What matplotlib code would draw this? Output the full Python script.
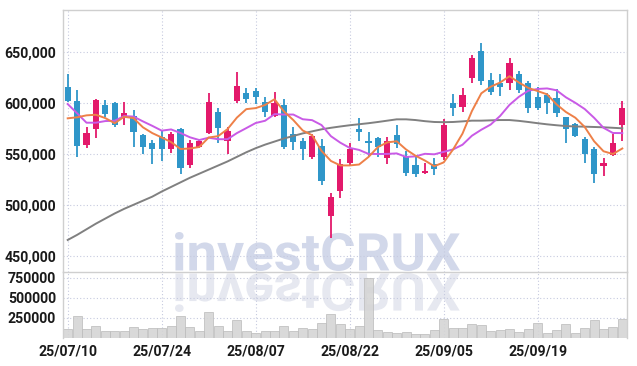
import numpy as np
import matplotlib
matplotlib.use('Agg')
import matplotlib.pyplot as plt
from matplotlib.textpath import TextPath
from matplotlib.patches import PathPatch
from matplotlib.font_manager import FontProperties
from matplotlib.transforms import Affine2D, IdentityTransform

# daily OHLC in thousands of won
open_ = [615.7, 602.5, 559.4, 575.1, 598.3, 600.6, 586.9, 587.5, 568.9, 560.8,
         567.3, 554.9, 574.8, 539.5, 556.9, 571.2, 591.5, 563.3, 602.5, 610.1,
         612.1, 601.6, 587.8, 598.3, 569.9, 563.0, 547.6, 558.1, 489.8, 514.3,
         541.2, 574.5, 562.4, 565.7, 546.1, 568.9, 548.3, 539.5, 532.0, 540.5,
         547.6, 600.6, 596.7, 625.1, 651.3, 622.8, 620.2, 619.6, 628.7, 619.6,
         605.9, 608.1, 604.9, 586.3, 579.4, 564.7, 554.9, 538.5, 549.3, 578.7]
high = [628.7, 613.0, 576.5, 603.9, 603.2, 601.3, 601.6, 593.4, 569.9, 564.0,
        573.1, 572.2, 575.5, 564.0, 564.0, 609.8, 595.1, 577.1, 631.0, 614.7,
        614.7, 605.9, 610.8, 603.9, 576.5, 565.7, 569.9, 564.7, 511.8, 545.1,
        560.8, 585.3, 572.2, 567.3, 566.7, 578.7, 553.5, 547.1, 541.8, 546.1,
        584.3, 609.1, 614.7, 647.4, 658.8, 629.4, 628.7, 644.1, 631.7, 622.2,
        616.3, 609.8, 613.7, 586.3, 581.0, 566.7, 556.9, 546.1, 569.9, 602.5]
low = [601.5, 547.0, 555.9, 565.7, 586.9, 576.5, 578.7, 556.9, 550.3, 540.5,
       543.7, 551.6, 530.7, 536.3, 555.9, 569.9, 561.4, 550.3, 600.6, 600.6,
       599.3, 586.9, 586.9, 554.9, 554.2, 544.4, 545.1, 519.9, 467.7, 506.9,
       539.5, 563.3, 548.3, 547.6, 540.5, 555.9, 528.7, 527.5, 530.7, 529.7,
       544.4, 587.5, 591.8, 620.2, 617.9, 608.1, 607.2, 613.0, 610.4, 590.2,
       593.4, 589.5, 586.9, 560.8, 567.3, 541.2, 521.6, 529.0, 548.3, 563.3]
close = [602.5, 558.1, 571.2, 603.2, 589.5, 578.7, 590.8, 572.2, 557.5, 555.5,
         555.5, 569.9, 536.3, 560.8, 563.0, 601.0, 576.1, 572.8, 617.0, 604.5,
         605.9, 591.8, 600.6, 557.5, 562.4, 554.9, 567.9, 524.1, 508.4, 540.2,
         554.9, 572.2, 561.4, 556.9, 563.3, 560.1, 532.0, 530.7, 533.6, 535.3,
         578.7, 595.7, 608.1, 644.1, 622.2, 611.4, 616.3, 639.2, 613.0, 595.7,
         595.7, 600.6, 590.2, 575.1, 567.9, 550.3, 530.7, 541.2, 561.4, 595.1]

# moving average lines (thousands of won)
ma_short = [585.3, 586.3, 588.2, 588.8, 585.5, 580.5, 586.8, 585.5, 576.5, 570.8,
            566.5, 562.0, 555.2, 555.7, 557.2, 566.5, 567.8, 574.7, 586.0, 594.3,
            595.3, 598.4, 604.0, 592.1, 583.6, 573.4, 568.7, 553.4, 543.5, 539.1,
            539.1, 540.0, 547.4, 557.1, 561.7, 562.8, 554.7, 548.6, 543.9, 538.3,
            542.1, 554.8, 570.3, 592.4, 609.8, 616.3, 620.4, 626.6, 620.4, 615.1,
            612.0, 608.8, 599.0, 591.5, 585.9, 576.8, 562.8, 553.0, 550.3, 555.7]
ma_mid = [599.3, 590.2, 581.0, 581.0, 582.6, 582.9, 587.5, 587.0, 582.3, 577.9,
          573.2, 574.4, 570.9, 566.7, 564.0, 566.3, 564.8, 564.8, 570.8, 575.7,
          580.7, 582.9, 589.4, 589.0, 589.0, 584.4, 583.5, 578.7, 567.8, 561.4,
          556.3, 554.3, 550.4, 550.3, 550.4, 550.9, 547.4, 548.0, 550.5, 550.0,
          552.4, 554.8, 559.4, 568.2, 574.1, 579.2, 587.6, 598.5, 606.4, 612.4,
          614.1, 614.6, 612.8, 605.9, 600.5, 594.4, 585.8, 576.0, 570.9, 570.8]
ma_long = [466.0, 471.0, 476.5, 482.0, 487.0, 492.0, 496.5, 500.5, 504.5, 508.5,
           513.5, 518.0, 522.5, 527.0, 531.0, 535.0, 539.0, 543.0, 547.5, 552.0,
           556.0, 559.5, 562.5, 565.5, 568.0, 570.5, 572.5, 574.5, 576.0, 577.3,
           578.5, 579.5, 580.5, 581.7, 583.0, 584.3, 584.3, 583.6, 582.5, 581.7,
           581.5, 581.7, 582.3, 583.0, 583.0, 583.3, 583.6, 583.6, 582.8, 581.7,
           580.5, 579.4, 578.5, 577.7, 577.3, 577.1, 576.8, 576.5, 576.0, 575.5]

# volume in thousands of shares
volume = [112, 270, 112, 145, 83, 83, 83, 137, 112, 125,
          125, 145, 270, 137, 83, 320, 145, 83, 220, 83,
          62, 83, 83, 145, 83, 120, 108, 187, 300, 166,
          112, 150, 750, 95, 75, 62, 75, 50, 50, 95,
          237, 125, 125, 175, 162, 83, 100, 112, 75, 112,
          187, 62, 91, 166, 62, 125, 216, 112, 137, 229]

tick_pos = [0, 10, 20, 30, 40, 50]
tick_labels = ['25/07/10', '25/07/24', '25/08/07', '25/08/22', '25/09/05', '25/09/19']

UP = '#e3196b'
DOWN = '#2f96c9'
GRID = '#c6cadf'
SPINE = '#cfcfcf'
FONT = ['Roboto', 'DejaVu Sans']


def main():
    o = np.array(open_) * 1000
    h = np.array(high) * 1000
    l = np.array(low) * 1000
    c = np.array(close) * 1000
    x = np.arange(len(c))

    fig = plt.figure(figsize=(6.37, 3.66), dpi=100)
    ax = fig.add_axes([63 / 637, 1 - 272 / 366, 564 / 637, 262.5 / 366])
    axv = fig.add_axes([63 / 637, 1 - 337.5 / 366, 564 / 637, 65.5 / 366], sharex=ax)
    for a in (ax, axv):
        a.set_facecolor('none')

    # watermark and its reflection
    tp = TextPath((0, 0), 'investCRUX', size=100,
                  prop=FontProperties(family='Roboto', weight='bold'))
    ext = tp.get_extents()
    sx = 285 / ext.width
    sy = 39 / ext.height
    tr = Affine2D().translate(-ext.x0, -ext.y0).scale(sx, sy).translate(175, 95)
    fig.add_artist(PathPatch(tr.transform_path(tp), facecolor='#d2d8ea', edgecolor='none',
                             transform=IdentityTransform(), zorder=-1))
    tr2 = Affine2D().translate(-ext.x0, -ext.y0).scale(sx, -sy).translate(175, 93)
    fig.add_artist(PathPatch(tr2.transform_path(tp), facecolor='#e6e8f0', edgecolor='none',
                             transform=IdentityTransform(), zorder=-1))

    colors = [UP if cc >= oo else DOWN for oo, cc in zip(o, c)]
    ax.vlines(x, l, h, colors=colors, linewidth=1.3, zorder=2)
    ax.bar(x, np.maximum(np.abs(c - o), 1500), bottom=np.minimum(o, c),
           width=0.66, color=colors, zorder=3)

    ax.plot(x, np.array(ma_long) * 1000, color='#808080', lw=1.4, zorder=4)
    ax.plot(x, np.array(ma_mid) * 1000, color='#c95ae6', lw=1.4, zorder=4)
    ax.plot(x, np.array(ma_short) * 1000, color='#ee8048', lw=1.4, zorder=4)

    ax.set_xlim(-0.5, len(c) - 0.5)
    ax.set_ylim(434600, 692000)
    ax.set_yticks([450000, 500000, 550000, 600000, 650000])
    ax.set_yticklabels(['{:,}'.format(v) for v in ax.get_yticks().astype(int)])

    axv.bar(x, np.array(volume) * 1000, width=0.95, color='#d5d5d5',
            edgecolor='#bdbdbd', linewidth=0.6, alpha=0.9, zorder=2)
    axv.set_ylim(0, 820000)
    axv.set_yticks([250000, 500000, 750000])
    axv.set_yticklabels(['250000', '500000', '750000'])
    axv.set_xticks(tick_pos)
    axv.set_xticklabels(tick_labels)

    for a in (ax, axv):
        a.grid(color=GRID, linestyle=(0, (1, 2)), linewidth=0.8)
        a.set_axisbelow(True)
        a.tick_params(length=0, labelsize=10.2, labelcolor='#1a1a1a', pad=5)
        for s in a.spines.values():
            s.set_color(SPINE)
            s.set_linewidth(1.0)
        for t in a.get_xticklabels() + a.get_yticklabels():
            t.set_family(FONT)
            t.set_fontweight('bold')
    ax.tick_params(labelbottom=False)
    axv.spines['bottom'].set_visible(False)
    axv.spines['top'].set_visible(False)

    fig.savefig('out.png', dpi=100)


if __name__ == '__main__':
    main()
